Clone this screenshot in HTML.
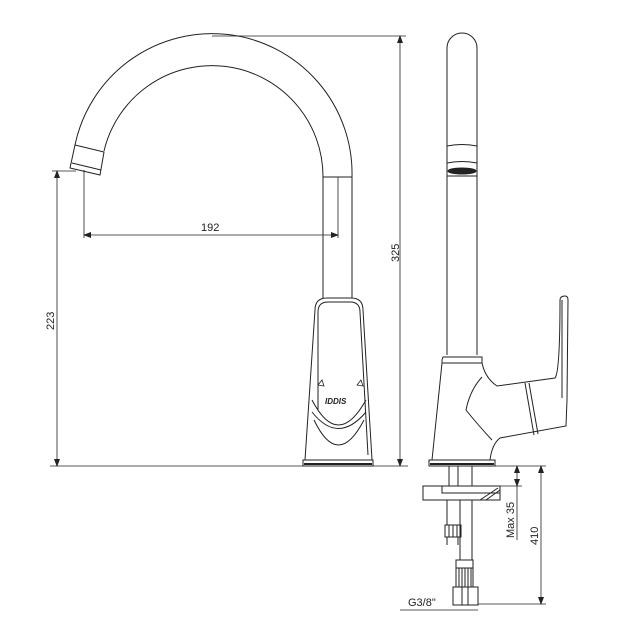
<!DOCTYPE html>
<html><head><meta charset="utf-8"><style>
html,body{margin:0;padding:0;background:#fff;}
svg{display:block;}
text{font-family:"Liberation Sans",sans-serif;font-size:11px;fill:#222;}
</style></head><body>
<svg width="638" height="637" viewBox="0 0 638 637" xmlns="http://www.w3.org/2000/svg">
<defs>
<marker id="a" markerWidth="8" markerHeight="6" refX="7" refY="3" orient="auto-start-reverse" markerUnits="userSpaceOnUse"><path d="M0,0 L8,3 L0,6 z" fill="#222"/></marker>
</defs>
<g fill="none" stroke="#222" stroke-width="1">
<!-- front spout -->
<path d="M75,145 A140,140 0 0 1 352,177 L352,298"/>
<path d="M104,151 A111,111 0 0 1 323,177 L323,298"/>
<line x1="323" y1="177" x2="352" y2="177"/>
<path d="M75,145 L104,152 L100,175 L70,168 Z" fill="#fff"/>
<line x1="72" y1="163" x2="101" y2="170"/>
<line x1="338" y1="177" x2="338" y2="238" stroke-width="0.8"/>
<!-- body front -->
<path d="M315,310 Q315,298 327,298 L351,298 Q363,298 363,310 L372,460 L305,460 Z"/>
<path d="M318,312 Q318,302 328,302 L350,302 Q360,302 360,312 L368,455"/>
<path d="M318,312 L318,410"/>
<path d="M312,400 Q338,450 366,400"/>
<path d="M312,412 Q338,445 366,412"/>
<path d="M314,420 Q338,470 364,420"/>
<path d="M318,385 l4,-5 l2,6 z M357,385 l4,-5 l2,6 z" stroke-width="0.8"/>
<rect x="303" y="460" width="70" height="6" fill="#fff"/>
<line x1="304" y1="464" x2="372" y2="464" stroke-width="2"/>
<!-- dimensions front -->
<line x1="212" y1="36" x2="406" y2="36" stroke-width="0.8"/>
<line x1="400" y1="36" x2="400" y2="466" stroke-width="0.8" marker-start="url(#a)" marker-end="url(#a)"/>
<line x1="50" y1="466" x2="408" y2="466" stroke-width="0.8"/>
<line x1="52" y1="171" x2="76" y2="171" stroke-width="0.8"/>
<line x1="57" y1="171" x2="57" y2="466" stroke-width="0.8" marker-start="url(#a)" marker-end="url(#a)"/>
<line x1="84" y1="170" x2="84" y2="238" stroke-width="0.8"/>
<line x1="84" y1="235" x2="338" y2="235" stroke-width="0.8" marker-start="url(#a)" marker-end="url(#a)"/>
<!-- side view -->
<path d="M447,355 L447,48 A15,15 0 0 1 477,48 L477,355"/>
<path d="M447,146 Q462,143 477,146 M447,163 Q462,160 477,163 M447,176 L477,176"/>
<ellipse cx="462" cy="171" rx="14" ry="3" fill="#222"/>
<path d="M442,360 L443,357 L482,357 L482,363 L442,363 Z"/>
<path d="M442,363 L432,460 M482,363 Q485,378 497,386 L555,378 Q560,372 560,300 Q560,296 565,296 Q568,296 568,300 L567,400 L566,426 L500,438 Q492,444 490,460"/>
<path d="M482,377 Q470,390 466,410 Q478,425 492,440"/>
<path d="M525,383 L534,435 M529,383 L538,434"/>
<path d="M562,300 L562,398"/>
<rect x="429" y="460" width="66" height="6" fill="#fff"/>
<line x1="430" y1="464" x2="494" y2="464" stroke-width="2"/>
<!-- under-counter -->
<path d="M449,466 L449,486 M458,466 L458,486 M472,466 L472,486"/>
<rect x="423" y="486" width="77" height="14"/>
<rect x="442" y="486" width="58" height="7"/>
<path d="M480,500 L498,488 M486,500 L500,490"/>
<path d="M447,500 L447,525 M460,500 L460,560 M472,500 L472,560"/>
<rect x="445" y="525" width="16" height="12"/>
<path d="M449,525 L449,537 M453,525 L453,537 M457,525 L457,537"/>
<path d="M447,537 L447,545 M458,537 L458,545"/>
<rect x="456" y="560" width="17" height="8"/>
<rect x="456" y="568" width="17" height="19"/>
<path d="M459,568 L459,587 M462,568 L462,587 M465,568 L465,587 M468,568 L468,587 M471,568 L471,587"/>
<rect x="453" y="587" width="25" height="18"/>
<path d="M462,587 L462,605 M468,587 L468,605"/>
<line x1="400" y1="610" x2="478" y2="610" stroke-width="0.8"/>
<line x1="495" y1="466" x2="546" y2="466" stroke-width="0.8"/>
<line x1="500" y1="486" x2="522" y2="486" stroke-width="0.8"/>
<line x1="478" y1="604" x2="546" y2="604" stroke-width="0.8"/>
<line x1="517" y1="466" x2="517" y2="486" stroke-width="0.8" marker-start="url(#a)" marker-end="url(#a)"/>
<line x1="517" y1="486" x2="517" y2="540" stroke-width="0.8"/>
<line x1="541" y1="466" x2="541" y2="604" stroke-width="0.8" marker-start="url(#a)" marker-end="url(#a)"/>
</g>
<text x="201" y="231">192</text>
<text transform="translate(399,262) rotate(-90)">325</text>
<text transform="translate(54,330) rotate(-90)">223</text>
<text transform="translate(514,538) rotate(-90)">Max 35</text>
<text transform="translate(538,545) rotate(-90)">410</text>
<text x="408" y="606">G3/8"</text>
<text x="325" y="404" style="font-size:8px;font-weight:bold;font-style:italic">IDDIS</text>
</svg>
</body></html>
